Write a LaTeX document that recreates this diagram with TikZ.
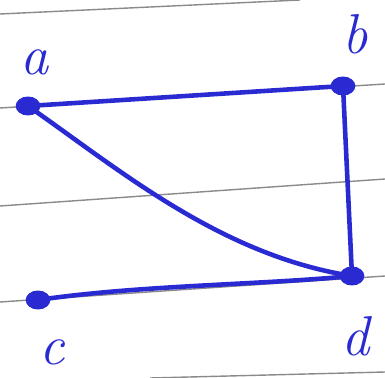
\documentclass[tikz,border=0pt]{standalone}
\usepackage{xcolor}
\usepackage{tikz}
\usetikzlibrary{positioning}
\definecolor{ink}{HTML}{2A2AD2}
\definecolor{rule}{HTML}{8A8A8A}

\begin{document}
\begin{tikzpicture}[x=0.02cm,y=-0.02cm,
 dot/.style={circle,fill=ink,inner sep=0pt,minimum size=3.8mm,xscale=1.3},
 lbl/.style={text=ink,font=\fontsize{32}{32}\selectfont\itshape,inner sep=0pt},
 e/.style={draw=ink,line width=2.6pt,line cap=round},
 ruled/.style={draw=rule,line width=0.8pt}]
 \useasboundingbox (0,0) rectangle (385,378);
 % ruled paper
 \draw[ruled] (0,14) -- (300,0);
 \draw[ruled] (0,108) -- (385,84);
 \draw[ruled] (0,206) -- (385,179);
 \draw[ruled] (0,302) -- (385,276);
 \draw[ruled] (150,378) -- (385,372);
 % vertices
 \node[dot] (a) at (28,106) {};
 \node[dot] (b) at (343,86) {};
 \node[dot] (c) at (38,300) {};
 \node[dot] (d) at (352,276) {};
 \node[lbl] (la) at (35,62) {a};
 \node[lbl] (lb) at (355,34) {b};
 \node[lbl] (lc) at (52,352) {c};
 \node[lbl] (ld) at (356,336) {d};
 % edges
 \draw[e] (a.center) -- (b.center);
 \draw[e] (b.center) -- (d.center);
 \draw[e] (a.center) .. controls (120,170) and (220,255) .. (d.center);
 \draw[e] (c.center) .. controls (140,285) and (260,285) .. (d.center);
\end{tikzpicture}
\end{document}
